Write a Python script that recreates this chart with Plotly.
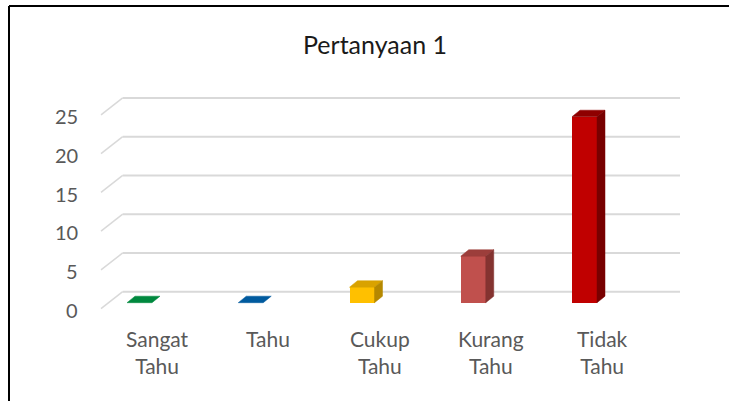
import plotly.graph_objects as go

# ---- data ----
categories = ["Sangat<br>Tahu", "Tahu", "Cukup<br>Tahu", "Kurang<br>Tahu", "Tidak<br>Tahu"]
values = [0, 0, 2, 6, 24]
tick_values = [0, 5, 10, 15, 20, 25]
title_text = "Pertanyaan 1"

front_colors = ["#00883E", "#005A9E", "#FFC000", "#C0504D", "#C00000"]
top_colors = ["#00883E", "#005A9E", "#D9A200", "#9C3E3B", "#8E0000"]
side_colors = ["#006A30", "#00457A", "#B58800", "#843330", "#780000"]

# ---- geometry (pixels) ----
W, H = 729, 401
X0_PX = 139.5        # pixel x of first category centre (front face)
UX = 111.25          # pixels per category
Y0_PX = 302.7        # pixel y (from top) of value 0 on front face
UY = 7.75            # pixels per unit
BAR_W_PX = 25
DEPTH_DX, DEPTH_DY = 8.0, 6.5     # bar depth offset (px)
BACK_DY = 11.0                     # back wall above bar zero (px)
FRONT_DY = -6.0                    # front end of floor diagonals below bar zero (px)
BACK_LEFT_PX, BACK_RIGHT_PX, FRONT_LEFT_PX = 122.7, 680, 101

def px_to_x(px):
    return (px - X0_PX) / UX

def py_to_y(py):
    return (Y0_PX - py) / UY

x_range = [px_to_x(0), px_to_x(W)]
y_range = [py_to_y(H), py_to_y(0)]

bw = BAR_W_PX / UX
ddx = DEPTH_DX / UX
ddy = DEPTH_DY / UY

fig = go.Figure()
xs = list(range(len(categories)))

fig.add_trace(go.Bar(
    x=xs, y=values, width=bw, base=0,
    marker=dict(color=front_colors, line=dict(width=0)),
    hoverinfo="skip", showlegend=False,
))

for i, v in enumerate(values):
    x0, x1 = i - bw / 2, i + bw / 2
    # top face
    fig.add_trace(go.Scatter(
        x=[x0, x1, x1 + ddx, x0 + ddx, x0],
        y=[v, v, v + ddy, v + ddy, v],
        fill="toself", fillcolor=top_colors[i], mode="lines",
        line=dict(width=0.5, color=top_colors[i]),
        hoverinfo="skip", showlegend=False,
    ))
    if v > 0:
        fig.add_trace(go.Scatter(
            x=[x1, x1 + ddx, x1 + ddx, x1, x1],
            y=[0, ddy, v + ddy, v, 0],
            fill="toself", fillcolor=side_colors[i], mode="lines",
            line=dict(width=0.5, color=side_colors[i]),
            hoverinfo="skip", showlegend=False,
        ))

# gridlines on back wall + floor diagonals
grid_color = "#D9D9D9"
back_x0 = px_to_x(BACK_LEFT_PX)
back_x1 = px_to_x(BACK_RIGHT_PX)
front_x = px_to_x(FRONT_LEFT_PX)
back_dy = BACK_DY / UY
front_dy = FRONT_DY / UY
shapes = []
annotations = []
for t in tick_values:
    shapes.append(dict(type="line", xref="x", yref="y", layer="below",
                       x0=back_x0, x1=back_x1, y0=t + back_dy, y1=t + back_dy,
                       line=dict(color=grid_color, width=2)))
    shapes.append(dict(type="line", xref="x", yref="y", layer="below",
                       x0=front_x, x1=back_x0, y0=t + front_dy, y1=t + back_dy,
                       line=dict(color=grid_color, width=1.5)))
    annotations.append(dict(xref="x", yref="y", x=px_to_x(80), y=t + front_dy - 0.15,
                            text=str(t), showarrow=False, xanchor="right", yanchor="middle",
                            font=dict(family="Lato", size=20, color="#595959")))

for i, c in enumerate(categories):
    annotations.append(dict(xref="x", yref="y", x=i + px_to_x(X0_PX + 17.5), y=py_to_y(324),
                            text=c, showarrow=False, xanchor="center", yanchor="top",
                            font=dict(family="Lato", size=21, color="#595959")))

annotations.append(dict(xref="paper", yref="paper", x=375 / W, y=1 - 44 / H,
                        text=title_text, showarrow=False, xanchor="center", yanchor="middle",
                        font=dict(family="Lato", size=25, color="#1A1A1A")))

# outer border (top and left)
shapes.append(dict(type="line", xref="paper", yref="paper", x0=9 / W, x1=1, y0=1 - 6 / H, y1=1 - 6 / H,
                   line=dict(color="#000000", width=2)))
shapes.append(dict(type="line", xref="paper", yref="paper", x0=9 / W, x1=9 / W, y0=1 - 6 / H, y1=0,
                   line=dict(color="#000000", width=2)))

fig.update_layout(
    width=W, height=H,
    margin=dict(l=0, r=0, t=0, b=0),
    paper_bgcolor="#FFFFFF", plot_bgcolor="rgba(0,0,0,0)",
    xaxis=dict(range=x_range, visible=False, fixedrange=True),
    yaxis=dict(range=y_range, visible=False, fixedrange=True),
    shapes=shapes, annotations=annotations,
    showlegend=False, bargap=0,
)

fig.write_html("out.html")
